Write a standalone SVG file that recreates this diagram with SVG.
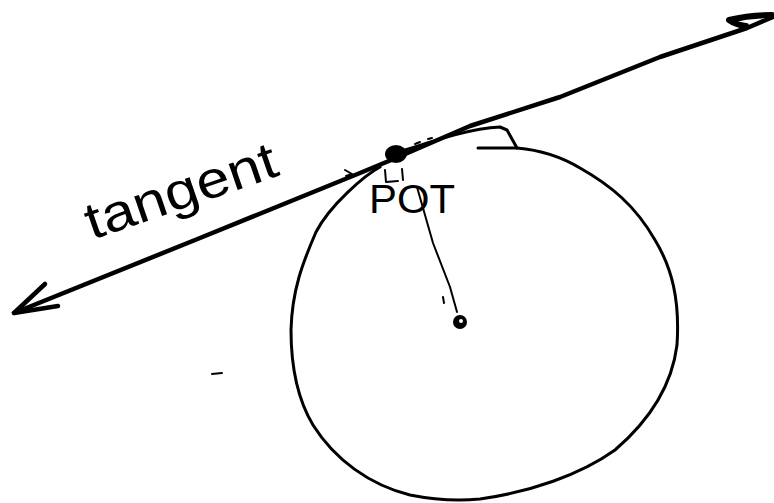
<svg xmlns="http://www.w3.org/2000/svg" width="774" height="503" viewBox="0 0 774 503">
<style>
.ink{fill:none;stroke:#000;stroke-linecap:round;stroke-linejoin:round}
.thick{stroke-width:4.5}
.mid{stroke-width:3}
.thin{stroke-width:2}
.hand{font-family:"Liberation Sans","DejaVu Sans",sans-serif;fill:#000}
</style>
<rect width="774" height="503" fill="#fff"/>
<g id="connectors">
  <path class="ink thick" d="M 14 313 L 200 238 L 360 173 L 396 158 L 470 126 L 560 97 L 660 57 L 747 28 L 773 17"/>
  <path class="ink thick" d="M 45 284 L 14 313 L 58 306"/>
  <path class="ink" stroke-width="6" d="M 772 15 Q 750 15 729 20 Q 736 25 746 26"/>
</g>
<g id="circle">
  <path class="ink mid" d="M 380 167 C 365 175 330 205 316 232 C 303 262 292 290 291 330 C 291 370 298 400 313 425 C 335 460 370 485 410 495 C 435 500 460 501 480 499 C 530 492 580 475 615 450 C 650 420 672 385 677 345 C 680 300 672 268 655 240 C 635 205 610 185 580 168 C 560 156 540 150 517 148 L 478 148"/>
  <path class="ink mid" d="M 396 153 C 430 142 470 128 500 127 L 507 130 L 517 148"/>
</g>
<g id="point-of-tangency">
  <ellipse cx="396" cy="154" rx="11" ry="9" fill="#000"/>
  <path class="ink thin" d="M 385 170 L 386 182 L 398 181 M 402 169 L 403 180"/>
  <path class="ink thin" d="M 345 170 L 352 174 L 346 176 M 415 144 L 420 142 M 428 139 L 432 138"/>
</g>
<g id="radius">
  <path class="ink thin" d="M 417 187 L 433 243 L 450 287 L 457 312"/>
  <path class="ink thin" d="M 443 297 L 444 303"/>
</g>
<g id="center">
  <circle cx="460" cy="322" r="7" fill="#000"/>
  <circle cx="461" cy="321" r="2" fill="#fff"/>
</g>
<g id="labels">
  <text class="hand" x="369" y="213" font-size="40" textLength="86" lengthAdjust="spacingAndGlyphs">POT</text>
  <text class="hand" transform="translate(92,240) rotate(-19)" font-size="52" textLength="200" lengthAdjust="spacingAndGlyphs">tangent</text>
</g>
<g id="stray-mark">
  <path class="ink thin" d="M 212 374 L 222 373"/>
</g>
</svg>
